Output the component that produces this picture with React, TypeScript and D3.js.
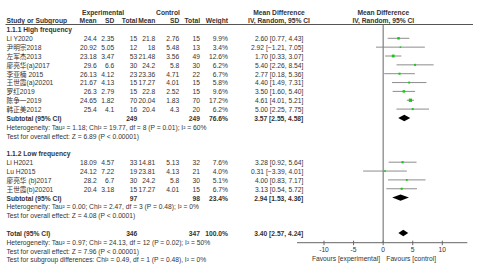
import React from "react";
import * as d3 from "d3";

const highStudies = ["Li Y2020", "尹明宗2018", "左军杰2013", "廖亮华(a)2017", "李亚楠 2015", "王世霞(a)20201", "罗红2019", "陈争一2019", "韩正美2012"];
const highExpMean = ["24.4", "20.92", "23.18", "29.6", "26.13", "21.67", "26.3", "24.65", "25.4"];
const highExpSD = ["2.35", "5.05", "3.47", "6.6", "4.12", "4.13", "2.79", "1.82", "4.1"];
const highExpN = [15, 12, 53, 30, 23, 15, 15, 70, 16];
const highCtlMean = ["21.8", "18", "21.48", "24.2", "23.36", "17.27", "22.8", "20.04", "20.4"];
const highCtlSD = ["2.76", "5.48", "3.56", "5.8", "4.71", "4.01", "2.52", "1.83", "4.3"];
const highCtlN = [15, 13, 49, 30, 22, 15, 15, 70, 20];
const highWeight = [9.9, 3.4, 12.6, 6.2, 6.7, 5.8, 9.6, 17.2, 6.2];
const highMD = [2.6, 2.92, 1.7, 5.4, 2.77, 4.4, 3.5, 4.61, 5.0];
const highLo = [0.77, -1.21, 0.33, 2.26, 0.18, 1.49, 1.6, 4.01, 2.25];
const highHi = [4.43, 7.05, 3.07, 8.54, 5.36, 7.31, 5.4, 5.21, 7.75];

const lowStudies = ["Li H2021", "Lu H2015", "廖亮华 (b)2017", "王世霞(b)20201"];
const lowExpMean = ["18.09", "24.12", "28.2", "20.4"];
const lowExpSD = ["4.57", "7.22", "6.7", "3.18"];
const lowExpN = [33, 19, 30, 15];
const lowCtlMean = ["14.81", "23.81", "24.2", "17.27"];
const lowCtlSD = ["5.13", "4.13", "5.8", "4.01"];
const lowCtlN = [32, 21, 30, 15];
const lowWeight = [7.6, 4.0, 5.1, 6.7];
const lowMD = [3.28, 0.31, 4.0, 3.13];
const lowLo = [0.92, -3.39, 0.83, 0.54];
const lowHi = [5.64, 4.01, 7.17, 5.72];

const subtotalLabels = ["Subtotal (95% CI)", "Subtotal (95% CI)", "Total (95% CI)"];
const summaryExpN = [249, 97, 346];
const summaryCtlN = [249, 98, 347];
const summaryWeight = ["76.6%", "23.4%", "100.0%"];
const summaryMD = [3.57, 2.94, 3.4];
const summaryLo = [2.55, 1.53, 2.57];
const summaryHi = [4.58, 4.36, 4.24];

const hetHigh = "Heterogeneity: Tau² = 1.18; Chi² = 19.77, df = 8 (P = 0.01); I² = 60%";
const effHigh = "Test for overall effect: Z = 6.89 (P < 0.00001)";
const hetLow = "Heterogeneity: Tau² = 0.00; Chi² = 2.47, df = 3 (P = 0.48); I² = 0%";
const effLow = "Test for overall effect: Z = 4.08 (P < 0.0001)";
const hetTotal = "Heterogeneity: Tau² = 0.97; Chi² = 24.13, df = 12 (P = 0.02); I² = 50%";
const effTotal = "Test for overall effect: Z = 7.96 (P < 0.00001)";
const subgroupTest = "Test for subgroup differences: Chi² = 0.49, df = 1 (P = 0.48), I² = 0%";

const axisTicks = [-10, -5, 0, 5, 10];
const favourLeft = "Favours [experimental]";
const favourRight = "Favours [control]";

const FONT = "'Liberation Sans', Arial, 'Noto Sans CJK SC', sans-serif";
const FS = 6.7;
const TXT = "#333";

const fmt2 = d3.format(".2f");
const ciText = (m: number, l: number, h: number) => `${fmt2(m)} [${fmt2(l)}, ${fmt2(h)}]`;

export default function App() {
  const W = 484, H = 272;
  const x = d3.scaleLinear().domain([-10, 10]).range([324, 442.3]);
  const rowY = (i: number) => 38.8 + 8.85 * i;
  const axisY = 242.7;
  const sq = d3.scaleSqrt().domain([0, 17.2]).range([0, 3.3]);

  const col = { name: 6.5, eM: 96.7, eSD: 114.3, eN: 137.3, cM: 155.3, cSD: 179.3, cN: 200, w: 228, ci: 303.3 };

  const T = (props: any) => (
    <text fontFamily={FONT} fontSize={FS} fill={TXT} {...props} />
  );

  const studyRow = (key: string, i: number, name: string, em: string, esd: string, en: number, cm: string, csd: string, cn: number, w: number, md: number, lo: number, hi: number) => {
    const yc = rowY(i);
    const yb = yc + 2.4;
    const s = sq(w);
    return (
      <g key={key}>
        <T x={col.name} y={yb}>{name}</T>
        <T x={col.eM} y={yb} textAnchor="end">{em}</T>
        <T x={col.eSD} y={yb} textAnchor="end">{esd}</T>
        <T x={col.eN} y={yb} textAnchor="end">{en}</T>
        <T x={col.cM} y={yb} textAnchor="end">{cm}</T>
        <T x={col.cSD} y={yb} textAnchor="end">{csd}</T>
        <T x={col.cN} y={yb} textAnchor="end">{cn}</T>
        <T x={col.w} y={yb} textAnchor="end">{w.toFixed(1)}%</T>
        <T x={col.ci} y={yb} textAnchor="end">{ciText(md, lo, hi)}</T>
        <line x1={x(lo)} x2={x(hi)} y1={yc - 0.5} y2={yc - 0.5} stroke="#808080" strokeWidth={0.9} />
        <rect x={x(md) - s / 2} y={yc - 0.5 - s / 2} width={s} height={s} fill="#14c814" />
      </g>
    );
  };

  const summaryRow = (k: number, i: number) => {
    const yc = rowY(i);
    const yb = yc + 2.4;
    const lo = x(summaryLo[k]), hi = x(summaryHi[k]), m = x(summaryMD[k]);
    const h = 3.2;
    return (
      <g key={"s" + k}>
        <T x={col.name} y={yb} fontWeight="bold">{subtotalLabels[k]}</T>
        <T x={col.eN} y={yb} textAnchor="end" fontWeight="bold">{summaryExpN[k]}</T>
        <T x={col.cN} y={yb} textAnchor="end" fontWeight="bold">{summaryCtlN[k]}</T>
        <T x={col.w} y={yb} textAnchor="end" fontWeight="bold">{summaryWeight[k]}</T>
        <T x={col.ci} y={yb} textAnchor="end" fontWeight="bold">{ciText(summaryMD[k], summaryLo[k], summaryHi[k])}</T>
        <path d={`M${lo},${yc - 0.5} L${m},${yc - 0.5 - h} L${hi},${yc - 0.5} L${m},${yc - 0.5 + h} Z`} fill="#000" />
      </g>
    );
  };

  const note = (i: number, s: string, bold = false) => (
    <T key={"n" + i + s} x={col.name} y={rowY(i) + 2.4} fontWeight={bold ? "bold" : "normal"}>{s}</T>
  );

  return (
    <svg width={W} height={H} style={{ position: "absolute", left: 0, top: 0, background: "#fff" }}>
      {/* headers */}
      <T x={103} y={15} textAnchor="middle" fontWeight="bold">Experimental</T>
      <T x={168} y={15} textAnchor="middle" fontWeight="bold">Control</T>
      <T x={279} y={15} textAnchor="middle" fontWeight="bold">Mean Difference</T>
      <T x={383.3} y={15} textAnchor="middle" fontWeight="bold">Mean Difference</T>
      <T x={col.name} y={23} fontWeight="bold">Study or Subgroup</T>
      <T x={col.eM} y={23} textAnchor="end" fontWeight="bold">Mean</T>
      <T x={col.eSD} y={23} textAnchor="end" fontWeight="bold">SD</T>
      <T x={col.eN} y={23} textAnchor="end" fontWeight="bold">Total</T>
      <T x={col.cM} y={23} textAnchor="end" fontWeight="bold">Mean</T>
      <T x={col.cSD} y={23} textAnchor="end" fontWeight="bold">SD</T>
      <T x={col.cN} y={23} textAnchor="end" fontWeight="bold">Total</T>
      <T x={col.w} y={23} textAnchor="end" fontWeight="bold">Weight</T>
      <T x={279} y={23} textAnchor="middle" fontWeight="bold">IV, Random, 95% CI</T>
      <T x={383.3} y={23} textAnchor="middle" fontWeight="bold">IV, Random, 95% CI</T>
      <line x1={5.5} x2={473} y1={24.5} y2={24.5} stroke="#555" strokeWidth={1} />

      {/* zero line */}
      <line x1={x(0)} x2={x(0)} y1={24.5} y2={axisY} stroke="#666" strokeWidth={1} />

      {note(-1, "1.1.1 High frequency", true)}
      {highStudies.map((n, j) =>
        studyRow("h" + j, j, n, highExpMean[j], highExpSD[j], highExpN[j], highCtlMean[j], highCtlSD[j], highCtlN[j], highWeight[j], highMD[j], highLo[j], highHi[j])
      )}
      {summaryRow(0, 9)}
      {note(10, hetHigh)}
      {note(11, effHigh)}

      {note(13, "1.1.2 Low frequency", true)}
      {lowStudies.map((n, j) =>
        studyRow("l" + j, 14 + j, n, lowExpMean[j], lowExpSD[j], lowExpN[j], lowCtlMean[j], lowCtlSD[j], lowCtlN[j], lowWeight[j], lowMD[j], lowLo[j], lowHi[j])
      )}
      {summaryRow(1, 18)}
      {note(19, hetLow)}
      {note(20, effLow)}

      {summaryRow(2, 22)}
      {note(23, hetTotal)}
      {note(24, effTotal)}
      {note(25, subgroupTest)}

      {/* axis */}
      <line x1={297} x2={467.3} y1={axisY} y2={axisY} stroke="#666" strokeWidth={1} />
      {axisTicks.map((t) => (
        <g key={"t" + t}>
          <line x1={x(t)} x2={x(t)} y1={axisY - 2} y2={axisY + 2.5} stroke="#666" strokeWidth={1} />
          <T x={x(t)} y={axisY + 9} textAnchor="middle">{t}</T>
        </g>
      ))}
      <T x={380} y={260.8} textAnchor="end">{favourLeft}</T>
      <T x={386.3} y={260.8}>{favourRight}</T>
    </svg>
  );
}
